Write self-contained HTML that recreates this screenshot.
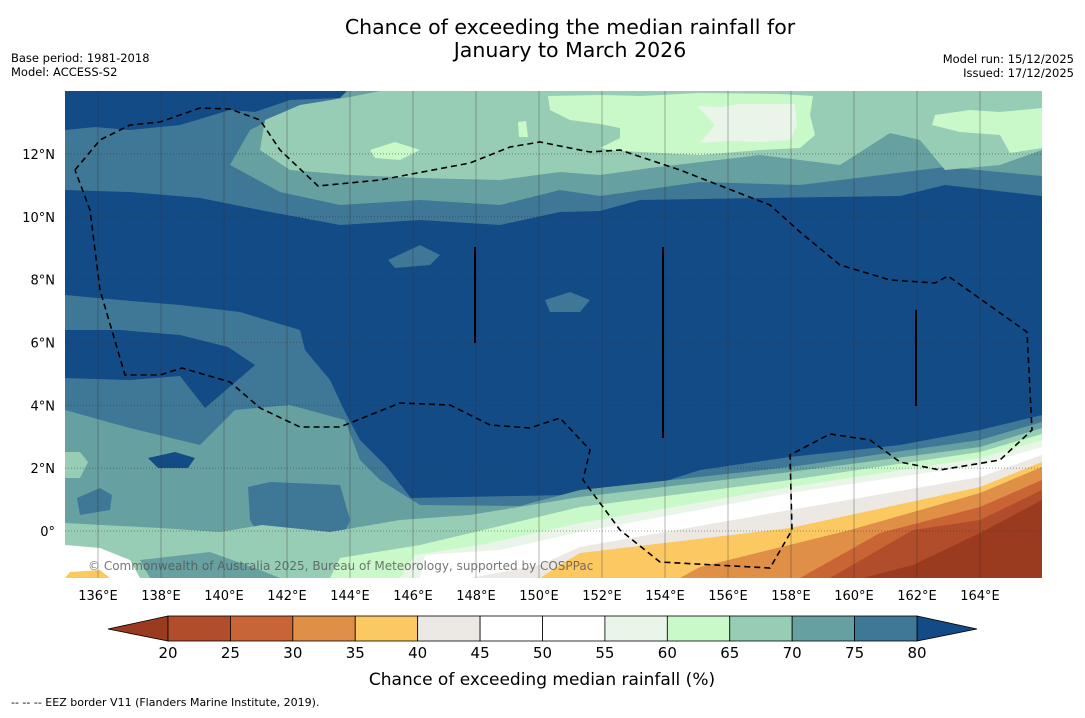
<!DOCTYPE html>
<html><head><meta charset="utf-8"><style>
body{margin:0;background:#fff;width:1085px;height:713px;overflow:hidden;font-family:"Liberation Sans","DejaVu Sans",sans-serif}
svg text{font-family:"DejaVu Sans","Liberation Sans",sans-serif}
</style></head><body>
<svg id="chart" width="1085" height="713" xmlns="http://www.w3.org/2000/svg">
<text x="570" y="34" font-size="20.5" text-anchor="middle">Chance of exceeding the median rainfall for</text>
<text x="570" y="57" font-size="20.5" text-anchor="middle">January to March 2026</text>
<text x="11" y="62" font-size="11.5">Base period: 1981-2018</text>
<text x="11" y="76" font-size="11.5">Model: ACCESS-S2</text>
<text x="1074" y="63" font-size="11.5" text-anchor="end">Model run: 15/12/2025</text>
<text x="1074" y="77" font-size="11.5" text-anchor="end">Issued: 17/12/2025</text>
<defs><clipPath id="mc"><rect x="65" y="91" width="977" height="487"/></clipPath></defs>
<g id="map" clip-path="url(#mc)">
<rect x="65" y="91" width="977" height="487" fill="#134b87"/>
<!-- north -->
<polygon fill="#3f7797" points="65,130 95,127 130,130 180,125 230,110 255,112 290,100 340,98 347,91 1042,91 1042,196 945,185 900,196 760,198 640,200 600,211 560,212 500,225 420,220 340,225 260,210 200,198 130,192 65,190"/>
<polygon fill="#67a0a0" points="347,91 1042,91 1042,176 945,167 800,185 700,182 600,196 560,190 500,205 420,200 340,205 280,192 230,165 250,130 290,110 340,98"/>
<polygon fill="#98cdb5" points="380,91 1042,91 1042,150 1000,165 945,170 920,140 890,133 840,165 760,155 650,168 600,175 560,172 500,180 420,178 350,175 290,170 260,150 265,120 300,105 350,97"/>
<polygon fill="#c9f9c8" points="548,96 600,95 640,96 700,93 780,94 813,96 810,115 815,135 800,148 760,150 700,155 640,152 610,150 600,148 620,138 620,128 600,124 570,120 550,110"/>
<polygon fill="#c9f9c8" points="935,115 970,110 1000,112 1042,108 1042,148 1010,153 1000,135 960,132 932,125"/>
<polygon fill="#c9f9c8" points="370,150 395,142 420,150 400,160 375,158"/>
<polygon fill="#c9f9c8" points="518,122 526,121 528,137 519,137"/>
<polygon fill="#e9f5e8" points="697,106 720,107 740,104 795,104 797,125 790,140 760,142 730,141 700,143 715,125"/>
<!-- west band -->
<polygon fill="#3f7797" points="65,295 120,300 180,305 240,312 300,330 300,348 240,350 180,335 120,330 65,330"/>
<polygon fill="#3f7797" points="388,260 420,245 440,255 430,265 395,268"/>
<polygon fill="#3f7797" points="545,300 570,292 590,300 580,312 550,312"/>
<!-- south -->
<polygon fill="#3f7797" points="65,378 130,380 180,376 205,408 240,378 255,365 225,345 260,330 300,330 305,350 330,380 345,412 360,440 386,466 411,498 460,497 625,494 700,470 790,457 900,445 980,430 1042,415 1042,578 65,578"/>
<polygon fill="#67a0a0" points="65,410 130,428 200,445 235,410 290,405 345,420 360,460 380,480 420,505 520,506 580,490 790,467 980,440 1042,422 1042,578 65,578"/>
<polygon fill="#134b87" points="148,458 175,452 195,458 188,468 158,468"/>
<polygon fill="#3f7797" points="77,498 100,488 112,495 110,510 80,515"/>
<polygon fill="#3f7797" points="248,487 270,482 340,485 350,520 340,545 300,550 265,545 250,520"/>
<polygon fill="#3f7797" points="258,570 285,560 290,578 258,578"/>
<polygon fill="#98cdb5" points="65,452 80,452 88,462 80,478 65,478"/>
<polygon fill="#98cdb5" points="65,523 160,528 220,532 262,525 330,532 400,520 470,515 580,497 790,472 980,447 1042,428 1042,578 65,578"/>
<polygon fill="#67a0a0" points="140,560 210,552 260,570 280,578 150,578"/>
<polygon fill="#c9f9c8" points="330,578 340,558 420,545 580,507 790,480 980,452 1042,434 1042,578"/>
<polygon fill="#e9f5e8" points="400,578 415,555 480,545 580,523 790,487 980,458 1042,440 1042,578"/>
<polygon fill="#ffffff" points="420,578 425,555 500,550 580,532 790,493 980,465 1042,447 1042,578"/>
<polygon fill="#ece9e4" points="470,578 540,565 580,547 790,510 980,477 1042,455 1042,578"/>
<polygon fill="#fcc862" points="540,578 560,565 580,553 790,528 980,487 1042,462 1042,578"/>
<polygon fill="#df8f46" points="680,578 700,567 850,530 980,493 1042,467 1042,578"/>
<polygon fill="#c96434" points="800,578 880,533 980,507 1042,480 1042,578"/>
<polygon fill="#b14d2a" points="830,578 913,530 980,520 1042,490 1042,578"/>
<polygon fill="#9a3a1e" points="863,578 913,565 980,533 1042,500 1042,578"/>
<polygon fill="#ffffff" points="65,545 100,548 130,560 140,578 65,578"/>
<polygon fill="#fcc862" points="65,578 70,572 100,570 110,578"/>
<g id="grid"></g>
<polyline fill="none" stroke="#000" stroke-width="1.6" stroke-dasharray="6,4" points="75,170 100,140 130,125 160,122 200,108 230,109 260,120 280,150 318,186 380,180 470,163 510,147 540,142 590,152 620,150 680,170 770,205 800,232 840,265 890,280 935,283 948,276 1027,332 1032,430 1000,460 940,470 900,462 870,440 830,434 790,455 792,530 770,568 660,562 620,530 583,480 590,450 560,418 530,428 490,425 450,405 400,403 340,427 300,427 260,408 230,382 182,368 160,375 125,375 100,290 90,210 75,170"/>
<line x1="475" y1="247" x2="475" y2="343" stroke="#000" stroke-width="2"/>
<line x1="663" y1="247" x2="663" y2="438" stroke="#000" stroke-width="2"/>
<line x1="916" y1="310" x2="916" y2="406" stroke="#000" stroke-width="2"/>
<text x="88" y="570" font-size="12" fill="#555" opacity="0.8">© Commonwealth of Australia 2025, Bureau of Meteorology, supported by COSPPac</text>
</g>
<g id="axes"></g>
<g id="colorbar"></g>
<text x="542" y="685" font-size="17" text-anchor="middle">Chance of exceeding median rainfall (%)</text>
<text x="11" y="706" font-size="11">--  --  -- EEZ border V11 (Flanders Marine Institute, 2019).</text>
</svg>
<script>
const lonTicks=[136,138,140,142,144,146,148,150,152,154,156,158,160,162,164];
const latTicks=[0,2,4,6,8,10,12];
const levels=[20,25,30,35,40,45,50,55,60,65,70,75,80];
const levelColors=["#b14d2a","#c96434","#df8f46","#fcc862","#ece9e4","#ffffff","#ffffff","#e9f5e8","#c9f9c8","#98cdb5","#67a0a0","#3f7797"];
const lowColor="#9a3a1e", highColor="#134b87";
const NS="http://www.w3.org/2000/svg";
const xLon=l=>98+(l-136)*31.5;
const yLat=l=>531-l*31.42;
const xLev=v=>168+(v-20)*(917-168)/60;
function mk(t,a,p){const e=document.createElementNS(NS,t);for(const k in a)e.setAttribute(k,a[k]);p.appendChild(e);return e;}
const grid=document.getElementById('grid'),axes=document.getElementById('axes'),cb=document.getElementById('colorbar');
lonTicks.forEach(l=>{
 const g=mk('line',{x1:xLon(l),x2:xLon(l),y1:91,y2:578,stroke:'#333','stroke-width':0.6,opacity:0.6},grid);
 
 
 const t=mk('text',{x:xLon(l),y:600,'font-size':13,'text-anchor':'middle'},axes);t.textContent=l+'°E';
 
 
});
latTicks.forEach(l=>{
 const g=mk('line',{x1:65,x2:1042,y1:yLat(l),y2:yLat(l),stroke:'#333','stroke-width':0.8,'stroke-dasharray':'1,2',opacity:0.6},grid);
 
 
 const t=mk('text',{x:55,y:yLat(l)+5,'font-size':13,'text-anchor':'end'},axes);t.textContent=l===0?'0°':l+'°N';
 
 
});
const lo=mk('polygon',{points:`108,629 ${xLev(20)},616 ${xLev(20)},641`,fill:lowColor,stroke:'#000','stroke-width':0.8},cb);


const hi=mk('polygon',{points:`977,629 ${xLev(80)},616 ${xLev(80)},641`,fill:highColor,stroke:'#000','stroke-width':0.8},cb);


levelColors.forEach((c,i)=>{
 const r=mk('rect',{x:xLev(levels[i]),y:616,width:xLev(levels[i+1])-xLev(levels[i]),height:25,fill:c,stroke:'#000','stroke-width':0.8},cb);
 
 
});
levels.forEach(v=>{
 const t=mk('text',{x:xLev(v),y:658,'font-size':15,'text-anchor':'middle'},cb);t.textContent=v;
 
 
});
</script>
</body></html>
